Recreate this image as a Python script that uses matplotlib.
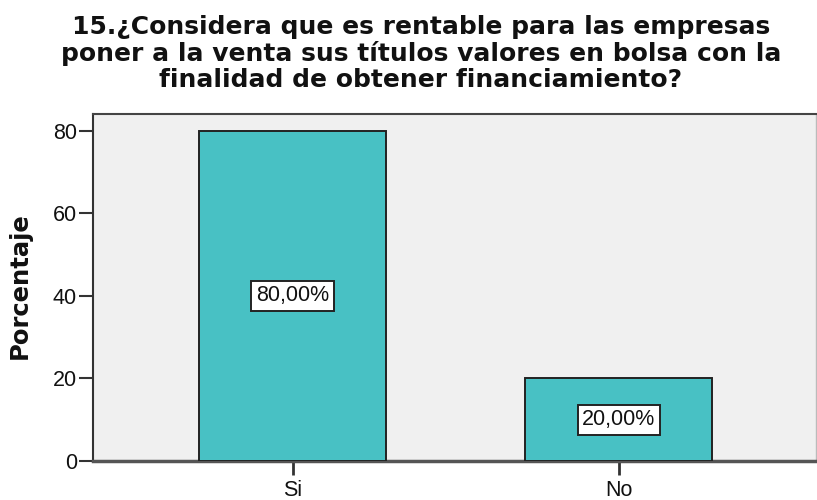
import matplotlib
matplotlib.use("Agg")
import matplotlib.pyplot as plt

categories = ["Si", "No"]
percentages = [80.0, 20.0]
bar_labels = ["80,00%", "20,00%"]
yticks = [0, 20, 40, 60, 80]
title = ("15.¿Considera que es rentable para las empresas\n"
         "poner a la venta sus títulos valores en bolsa con la\n"
         "finalidad de obtener financiamiento?")
ylabel = "Porcentaje"

W, H = 817, 500
fig = plt.figure(figsize=(W / 100, H / 100), dpi=100)
fig.patch.set_facecolor("white")

left, right, top, bottom = 93, 816, 114, 461
ax = fig.add_axes([left / W, 1 - bottom / H, (right - left) / W, (bottom - top) / H])
ax.set_facecolor("#F0F0F0")

x = list(range(len(categories)))
ax.bar(x, percentages, width=0.573, color="#48C1C4", edgecolor="#222222",
       linewidth=1.4, zorder=3)

for xi, v, lab in zip(x, percentages, bar_labels):
    ax.text(xi, v / 2, lab, ha="center", va="center", fontsize=15.5,
            family="Liberation Sans", color="#111111", zorder=4,
            bbox=dict(boxstyle="square,pad=0.22", facecolor="white",
                      edgecolor="#222222", linewidth=1.4))

ax.set_xlim(-0.6115, 1.6036)
ax.set_ylim(0, 84.1)
ax.set_xticks(x)
ax.set_xticklabels(categories)
ax.set_yticks(yticks)
ax.set_yticklabels([str(t) for t in yticks])

for lab in ax.get_xticklabels() + ax.get_yticklabels():
    lab.set_family("Liberation Sans")
    lab.set_fontsize(15.5)
    lab.set_color("#111111")

ax.tick_params(axis="y", direction="out", length=10, width=1.5, color="#333333", pad=1.5)
ax.tick_params(axis="x", direction="out", length=10, width=2, color="#333333", pad=4)

ax.spines["left"].set_color("#333333")
ax.spines["left"].set_linewidth(1.5)
ax.spines["bottom"].set_color("#555555")
ax.spines["bottom"].set_linewidth(2.5)
ax.spines["top"].set_color("#444444")
ax.spines["top"].set_linewidth(1.5)
ax.spines["right"].set_color("#BBBBBB")
ax.spines["right"].set_linewidth(1.0)

fig.text(421 / W, 1 - 15 / H, title, ha="center", va="top", fontsize=18,
         fontweight="bold", family="DejaVu Sans", linespacing=1.1, color="#111111")
fig.text(20 / W, 1 - 286 / H, ylabel, ha="center", va="center", rotation=90,
         fontsize=17.5, fontweight="bold", family="DejaVu Sans", color="#111111")

fig.savefig("out.png", dpi=100, facecolor="white")
